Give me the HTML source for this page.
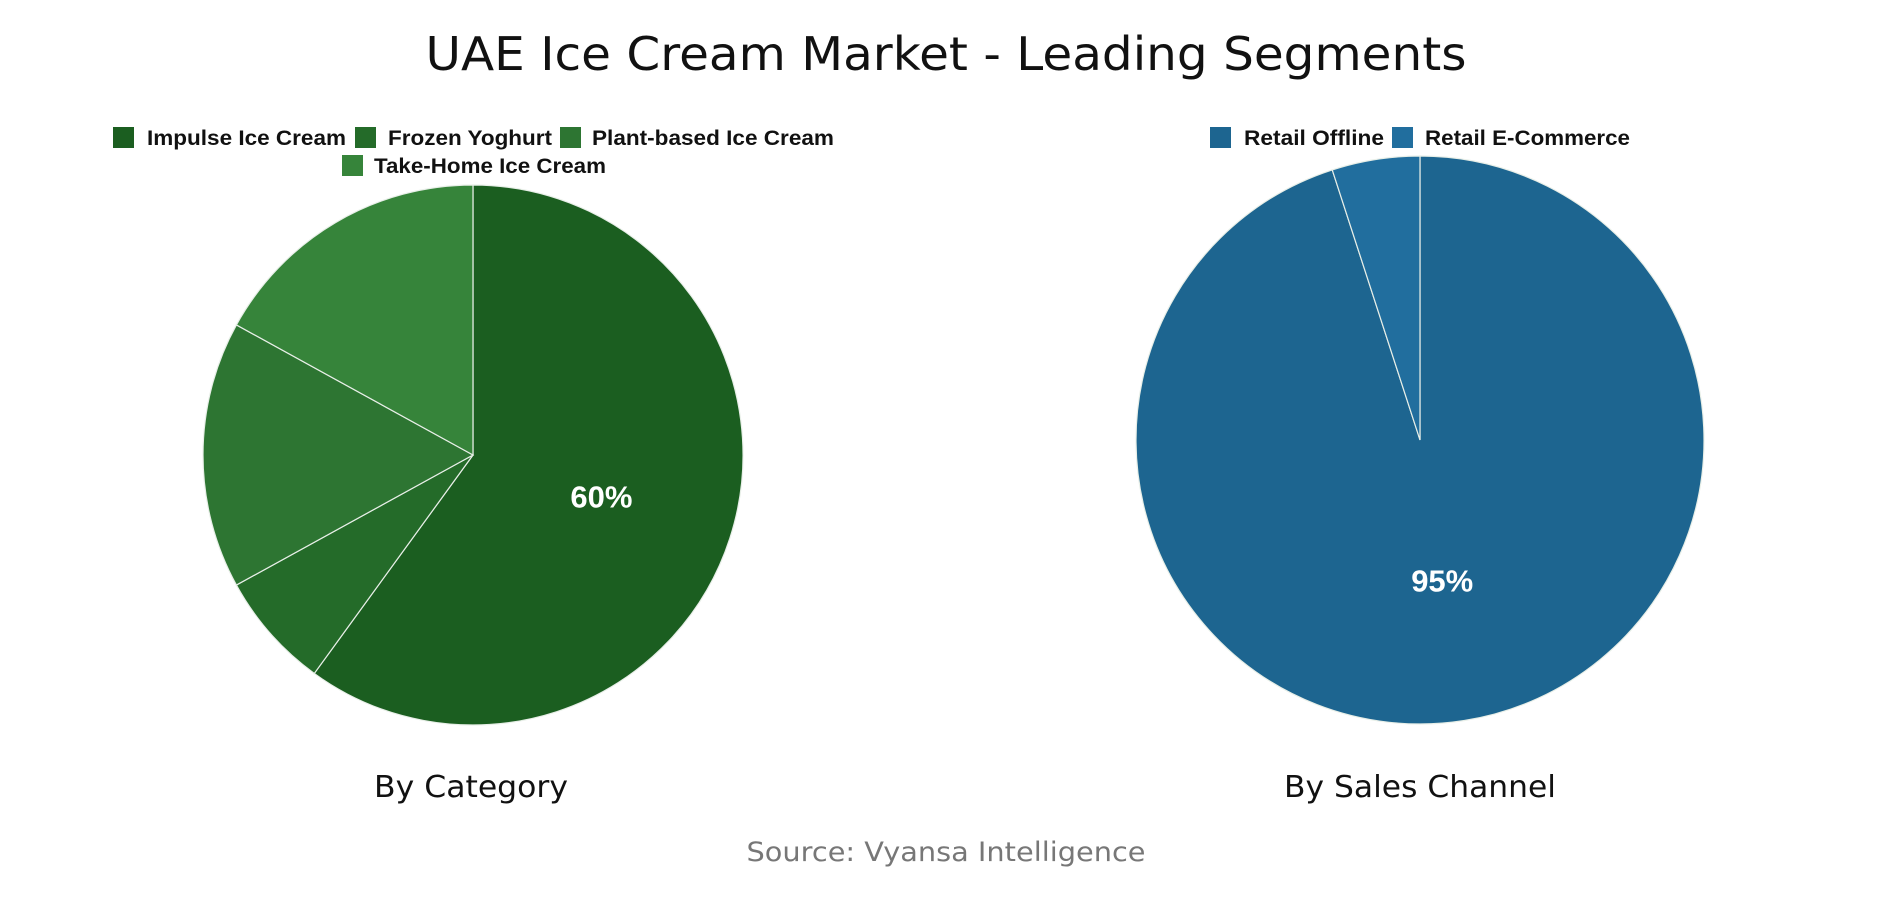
<!DOCTYPE html>
<html><head><meta charset="utf-8"><style>
body{margin:0;background:#fff;width:1894px;height:900px;overflow:hidden}
svg{display:block}
</style></head><body>
<svg id="chart" width="1894" height="900" xmlns="http://www.w3.org/2000/svg" font-family="Liberation Sans, sans-serif">
<text x="946" y="70" text-anchor="middle" font-family="DejaVu Sans, sans-serif" font-size="46" fill="#111" textLength="1041" lengthAdjust="spacingAndGlyphs">UAE Ice Cream Market - Leading Segments</text>
<g id="pie1"></g>
<g id="pie2"></g>
<g font-weight="bold" font-size="21" fill="#111">
<rect x="113" y="127" width="21" height="21" fill="#1b5e20"/><text x="147" y="145" textLength="199" lengthAdjust="spacingAndGlyphs">Impulse Ice Cream</text>
<rect x="355" y="127" width="21" height="21" fill="#246b29"/><text x="388" y="145" textLength="164" lengthAdjust="spacingAndGlyphs">Frozen Yoghurt</text>
<rect x="560" y="127" width="21" height="21" fill="#2d7532"/><text x="592" y="145" textLength="242" lengthAdjust="spacingAndGlyphs">Plant-based Ice Cream</text>
<rect x="342" y="155" width="21" height="21" fill="#36843a"/><text x="374" y="173" textLength="232" lengthAdjust="spacingAndGlyphs">Take-Home Ice Cream</text>
</g>
<g font-weight="bold" font-size="21" fill="#111">
<rect x="1210" y="127" width="21" height="21" fill="#1d6590"/><text x="1244" y="145" textLength="140" lengthAdjust="spacingAndGlyphs">Retail Offline</text>
<rect x="1392" y="127" width="21" height="21" fill="#216e9e"/><text x="1425" y="145" textLength="205" lengthAdjust="spacingAndGlyphs">Retail E-Commerce</text>
</g>
<text x="471" y="797" text-anchor="middle" font-family="DejaVu Sans, sans-serif" font-size="30" fill="#111" textLength="194" lengthAdjust="spacingAndGlyphs">By Category</text>
<text x="1420" y="797" text-anchor="middle" font-family="DejaVu Sans, sans-serif" font-size="30" fill="#111" textLength="272" lengthAdjust="spacingAndGlyphs">By Sales Channel</text>
<text x="946" y="861" text-anchor="middle" font-family="DejaVu Sans, sans-serif" font-size="27" fill="#777" textLength="399" lengthAdjust="spacingAndGlyphs">Source: Vyansa Intelligence</text>
</svg>
<script>
const catLabels = ["Impulse Ice Cream","Frozen Yoghurt","Plant-based Ice Cream","Take-Home Ice Cream"];
const catValues = [60, 7, 16, 17];
const catColors = ["#1b5e20","#246b29","#2d7532","#36843a"];
const chLabels = ["Retail Offline","Retail E-Commerce"];
const chValues = [95, 5];
const chColors = ["#1d6590","#216e9e"];
const NS="http://www.w3.org/2000/svg";
function drawPie(gid, cx, cy, r, labels, values, colors, showFirst){
  const g=document.getElementById(gid);
  const total=values.reduce((a,b)=>a+b,0);
  let a0=0;
  values.forEach((v,i)=>{
    const a1=a0+v/total*2*Math.PI;
    const x0=cx+r*Math.sin(a0), y0=cy-r*Math.cos(a0);
    const x1=cx+r*Math.sin(a1), y1=cy-r*Math.cos(a1);
    const large=(a1-a0)>Math.PI?1:0;
    const p=document.createElementNS(NS,'path');
    p.setAttribute('d',`M${cx},${cy}L${x0},${y0}A${r},${r} 0 ${large} 1 ${x1},${y1}Z`);
    p.setAttribute('fill',colors[i]);
    p.setAttribute('stroke','#e8efe8');
    p.setAttribute('stroke-width','1.2');
    
    
    g.appendChild(p);
    if(i===0&&showFirst){
      const am=(a0+a1)/2;
      const t=document.createElementNS(NS,'text');
      t.setAttribute('x',cx+0.5*r*Math.sin(am));
      t.setAttribute('y',cy-0.5*r*Math.cos(am)+11);
      t.setAttribute('text-anchor','middle');
      t.setAttribute('font-weight','bold');
      t.setAttribute('font-size','31');
      t.setAttribute('fill','#fff');
      
      
      t.textContent=Math.round(v/total*100)+'%';
      g.appendChild(t);
    }
    a0=a1;
  });
}
drawPie('pie1',473,455,270,catLabels,catValues,catColors,true);
drawPie('pie2',1420,440,284,chLabels,chValues,chColors,true);
</script>
</body></html>
